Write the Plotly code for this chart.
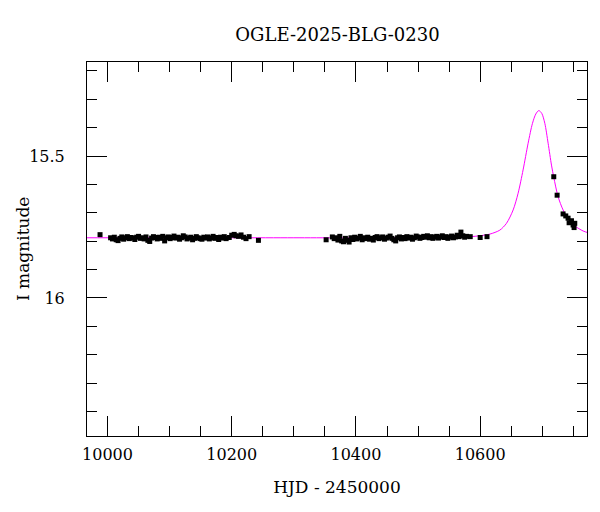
import plotly.graph_objects as go

# Observed photometry (HJD - 2450000, I mag)
t_obs = [9988, 10005, 10008, 10011, 10014, 10017, 10020, 10023, 10026, 10029,
         10032, 10035, 10038, 10041, 10044, 10047, 10050, 10053, 10056, 10059,
         10062, 10065, 10068, 10071, 10074, 10077, 10080, 10083, 10086, 10089,
         10092, 10095, 10098, 10101, 10104, 10107, 10110, 10113, 10116, 10119,
         10122, 10125, 10128, 10131, 10134, 10137, 10140, 10143, 10146, 10149,
         10152, 10155, 10158, 10161, 10164, 10167, 10170, 10173, 10176, 10179,
         10182, 10185, 10188, 10191, 10196, 10200, 10204, 10207, 10211, 10215,
         10219, 10223, 10228, 10243,
         10352, 10362, 10365, 10368, 10371, 10374, 10377, 10380, 10383, 10386,
         10389, 10392, 10395, 10398, 10401, 10404, 10407, 10410, 10413, 10416,
         10419, 10422, 10425, 10428, 10431, 10434, 10437, 10440, 10443, 10446,
         10449, 10452, 10455, 10458, 10461, 10464, 10467, 10470, 10473, 10476,
         10479, 10482, 10485, 10488, 10491, 10494, 10497, 10500, 10503, 10506,
         10509, 10512, 10515, 10518, 10521, 10524, 10527, 10530, 10533, 10536,
         10539, 10542, 10545, 10548, 10551, 10554, 10557, 10560, 10563, 10566,
         10569, 10572, 10575, 10578, 10584, 10600, 10611,
         10718.5, 10723.9, 10733.5, 10737.8, 10741.5, 10743.2, 10747.0, 10749.6,
         10751.2, 10752.3]
i_obs = [15.777, 15.788, 15.792, 15.786, 15.795, 15.798, 15.790, 15.785, 15.793, 15.788,
         15.784, 15.791, 15.787, 15.789, 15.794, 15.786, 15.783, 15.790, 15.788, 15.792,
         15.785, 15.797, 15.801, 15.789, 15.784, 15.787, 15.792, 15.786, 15.790, 15.783,
         15.799, 15.788, 15.785, 15.791, 15.787, 15.782, 15.789, 15.786, 15.793, 15.788,
         15.781, 15.785, 15.792, 15.789, 15.786, 15.795, 15.790, 15.784, 15.788, 15.791,
         15.793, 15.786, 15.789, 15.785, 15.792, 15.788, 15.783, 15.790, 15.787, 15.794,
         15.786, 15.789, 15.784, 15.791, 15.787, 15.779, 15.776, 15.781, 15.783, 15.778,
         15.786, 15.791, 15.784, 15.797,
         15.795, 15.785, 15.791, 15.788, 15.796, 15.783, 15.799, 15.802, 15.790, 15.797,
         15.803, 15.788, 15.794, 15.786, 15.792, 15.789, 15.783, 15.795, 15.788, 15.791,
         15.786, 15.793, 15.790, 15.796, 15.787, 15.784, 15.791, 15.788, 15.785, 15.793,
         15.789, 15.786, 15.782, 15.790, 15.795, 15.799, 15.788, 15.785, 15.792, 15.787,
         15.791, 15.784, 15.789, 15.786, 15.793, 15.788, 15.782, 15.785, 15.790, 15.787,
         15.783, 15.786, 15.781, 15.788, 15.784, 15.790, 15.786, 15.783, 15.789, 15.785,
         15.781, 15.787, 15.784, 15.790, 15.786, 15.782, 15.788, 15.785, 15.779, 15.784,
         15.768, 15.781, 15.786, 15.783, 15.784, 15.787, 15.784,
         15.573, 15.638, 15.704, 15.711, 15.719, 15.735, 15.728, 15.743,
         15.752, 15.737]

# Model curve
t_model = [9960, 10100, 10300, 10450, 10540, 10570, 10585, 10599, 10615.6, 10631.7,
           10642.4, 10653.1, 10661.1, 10669.1, 10677.2, 10684.2, 10689.6, 10694.4,
           10699.2, 10704.1, 10709.4, 10714.8, 10718.5, 10725.4, 10733.5, 10741.5,
           10752.3, 10765.7, 10775]
i_model = [15.788, 15.788, 15.788, 15.788, 15.787, 15.786, 15.784, 15.781, 15.775, 15.761,
           15.737, 15.690, 15.631, 15.549, 15.455, 15.385, 15.352, 15.340,
           15.350, 15.385, 15.455, 15.532, 15.575, 15.643, 15.690, 15.719,
           15.746, 15.764, 15.771]

title_text = "OGLE-2025-BLG-0230"
x_title = "HJD - 2450000"
y_title = "I magnitude"

FONT = "DejaVu Serif"

fig = go.Figure()
fig.add_trace(go.Scatter(x=t_model, y=i_model, mode="lines",
                         line=dict(color="#ff00ff", width=1, shape="spline", smoothing=0.8),
                         hoverinfo="skip", showlegend=False))
fig.add_trace(go.Scatter(x=t_obs, y=i_obs, mode="markers",
                         marker=dict(symbol="square", size=5, color="black"),
                         showlegend=False))

fig.update_layout(
    width=600, height=512,
    margin=dict(l=87, r=13, t=62, b=76),
    paper_bgcolor="white", plot_bgcolor="white",
    font=dict(family=FONT, size=16, color="black"),
    title=dict(text=title_text, x=0.5625, xanchor="center", y=1 - 35 / 512,
               yanchor="middle", yref="container", font=dict(size=18)),
    xaxis=dict(range=[9967, 10772], tickvals=[10000, 10200, 10400, 10600],
               ticktext=["10000", "10200", "10400", "10600"],
               ticks="inside", ticklen=20, tickwidth=1, tickcolor="black",
               minor=dict(dtick=50, tick0=0, ticks="inside", ticklen=10, tickcolor="black"),
               showline=True, linecolor="black", linewidth=1, mirror="ticks",
               showgrid=False, zeroline=False, ticklabelstandoff=4,
               title=dict(text=x_title, font=dict(size=17), standoff=17)),
    yaxis=dict(range=[16.486, 15.169], tickvals=[15.5, 16], ticktext=["15.5", "16"],
               ticks="inside", ticklen=20, tickwidth=1, tickcolor="black",
               minor=dict(dtick=0.1, tick0=0, ticks="inside", ticklen=10, tickcolor="black"),
               showline=True, linecolor="black", linewidth=1, mirror="ticks",
               showgrid=False, zeroline=False, ticklabelstandoff=18),
    annotations=[dict(text=y_title, textangle=-90, xref="paper", yref="paper",
                      x=(23 - 87) / 500, y=0.5, xanchor="center", yanchor="middle",
                      showarrow=False, font=dict(size=17))],
)

fig.write_html("out.html")
